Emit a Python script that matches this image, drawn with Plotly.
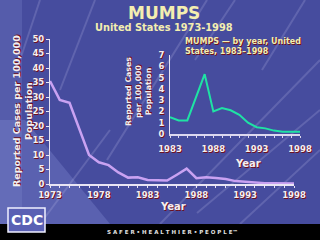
import plotly.graph_objects as go

years_main = list(range(1973, 1999))
rate_main = [35.5, 29.0, 28.0, 19.0, 10.0, 7.5, 6.5, 4.0, 2.2, 2.3, 1.4, 1.3, 1.2,
             3.2, 5.3, 2.0, 2.3, 2.1, 1.7, 1.0, 0.7, 0.6, 0.3, 0.3, 0.3, 0.2]

years_inset = list(range(1983, 1999))
rate_inset = [1.5, 1.2, 1.2, 3.2, 5.3, 2.0, 2.3, 2.1, 1.7, 1.0, 0.6, 0.5, 0.3, 0.2, 0.2, 0.2]

main_xticks = [1973, 1978, 1983, 1988, 1993, 1998]
main_yticks = list(range(0, 51, 5))
inset_xticks = [1983, 1988, 1993, 1998]
inset_yticks = list(range(0, 8))

W, H = 320, 240
FONT = "DejaVu Sans"
SHADOW = "1px 1px 0px #6e1020"
TXT = "#f4eef0"
YEL = "#f3eeb0"

def px(x):
    return x / W

def py(y):
    return (H - y) / H

fig = go.Figure()

fig.add_trace(go.Scatter(x=years_main, y=rate_main, mode="lines",
                         line=dict(color="#c9a2f2", width=2.5),
                         xaxis="x", yaxis="y", showlegend=False))
fig.add_trace(go.Scatter(x=years_inset, y=rate_inset, mode="lines",
                         line=dict(color="#1fe3a4", width=2),
                         xaxis="x2", yaxis="y2", showlegend=False))

tickfont = dict(family=FONT, size=8.5, color=TXT, weight="bold", shadow=SHADOW)

fig.update_layout(
    width=W, height=H, autosize=False,
    margin=dict(l=0, r=0, t=0, b=0, pad=0, autoexpand=False),
    paper_bgcolor="#464c9e",
    plot_bgcolor="rgba(0,0,0,0)",
    showlegend=False,
    xaxis=dict(domain=[px(50), px(294)], range=[1973, 1998], anchor="y", automargin=False,
               tickvals=main_xticks, ticktext=[str(v) for v in main_xticks],
               showgrid=False, zeroline=False, showline=True, linecolor="#e8e4f4", linewidth=1.5,
               ticks="outside", ticklen=2, tickcolor="#e8e4f4", tickfont=tickfont,
               minor=dict(dtick=1, ticks="outside", ticklen=2, tickcolor="#e8e4f4")),
    yaxis=dict(domain=[py(184), py(39)], range=[0, 50], anchor="x", automargin=False,
               tickvals=main_yticks, ticktext=[str(v) for v in main_yticks],
               showgrid=False, zeroline=False, showline=True, linecolor="#e8e4f4", linewidth=1,
               ticks="outside", ticklen=3, tickcolor="#e8e4f4", tickfont=tickfont),
    xaxis2=dict(domain=[px(170), px(300)], range=[1983, 1998], anchor="y2", automargin=False,
                tickvals=inset_xticks, ticktext=[str(v) for v in inset_xticks],
                showgrid=False, zeroline=False, showline=True, linecolor="#dcd8f0", linewidth=2,
                ticks="outside", ticklen=2, tickcolor="#dcd8f0", tickfont=tickfont,
                ticklabelstandoff=4,
                minor=dict(dtick=1, ticks="outside", ticklen=2, tickcolor="#dcd8f0")),
    yaxis2=dict(domain=[py(134), py(55)], range=[0, 7], anchor="x2", automargin=False,
                tickvals=inset_yticks, ticktext=[str(v) for v in inset_yticks],
                showgrid=False, zeroline=False, showline=True, linecolor="#e8e4f4", linewidth=1,
                ticks="", tickfont=tickfont, ticklabelstandoff=3),
)

# background decoration
shapes = []
shapes.append(dict(type="rect", xref="paper", yref="paper", layer="below",
                   x0=0, x1=px(22), y0=py(224), y1=1,
                   fillcolor="rgba(130,138,210,0.25)", line=dict(width=0)))
shapes.append(dict(type="path", xref="paper", yref="paper", layer="below",
                   path=f"M 0 {py(120)} L {px(25)} {py(120)} L {px(110)} {py(224)} L 0 {py(224)} Z",
                   fillcolor="rgba(130,138,210,0.35)", line=dict(width=0)))
for (x0, y0, x1, y1) in [(40, 224, 110, 130), (107, 160, 207, 0), (160, 224, 320, 60),
                         (197, 213, 320, 110), (240, 224, 320, 150), (195, 60, 235, 0),
                         (60, 90, 95, 0), (262, 70, 305, 0), (20, 60, 40, 0)]:
    shapes.append(dict(type="line", xref="paper", yref="paper", layer="below",
                        x0=px(x0), y0=py(y0), x1=px(x1), y1=py(y1),
                        line=dict(color="rgba(200,200,240,0.2)", width=2)))
shapes.append(dict(type="rect", xref="paper", yref="paper", layer="above",
                   x0=0, x1=1, y0=0, y1=py(224), fillcolor="#000000", line=dict(width=0)))
shapes.append(dict(type="rect", xref="paper", yref="paper", layer="above",
                   x0=px(8), x1=px(45), y0=py(232), y1=py(208), fillcolor="#5a60b4",
                   line=dict(color="#f0f0ff", width=1.5)))
fig.update_layout(shapes=shapes)

def note(text, x, y, size, color=TXT, shadow=True, angle=0, xanchor="center", align="center"):
    f = dict(family=FONT, size=size, color=color, weight="bold")
    if shadow:
        f["shadow"] = SHADOW
    return dict(text=text, x=px(x), y=py(y), xref="paper", yref="paper", showarrow=False,
                xanchor=xanchor, yanchor="middle", align=align, textangle=angle, font=f)

ann = [
    note("MUMPS", 164, 13, 17, YEL, shadow=False),
    note("United States 1973-1998", 164, 27, 9.8, YEL, shadow=False),
    note("MUMPS \u2014 by year, United<br>States, 1983\u20131998", 183, 47, 8, YEL,
         xanchor="left", align="left"),
    note("Reported Cases per 100,000<br>Population", 22, 111, 9.5, angle=-90),
    note("Reported Cases<br>per 100,000<br>Population", 138, 92, 7.8, angle=-90),
    note("Year", 173, 206, 10),
    note("Year", 248, 163, 10),
    note("CDC", 26.5, 220, 14, "#ffffff", shadow=False),
    note("S A F E R \u2022 H E A L T H I E R \u2022 P E O P L E\u2122", 172, 232, 5.5, "#e0e0e0",
         shadow=False),
]
fig.update_layout(annotations=ann)

fig.write_html("out.html")
